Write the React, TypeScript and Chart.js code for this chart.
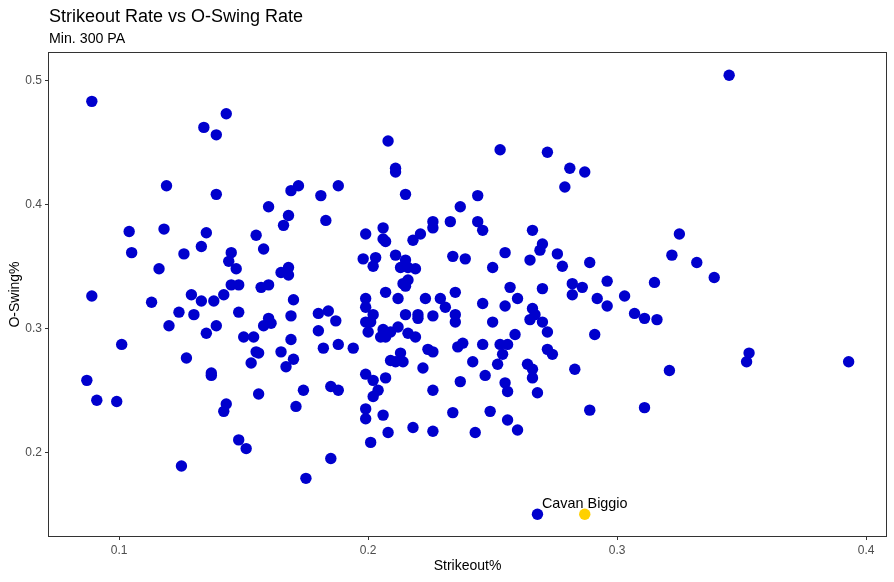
import { useEffect, useRef } from 'react'
import Chart from 'chart.js/auto'

const titleText = 'Strikeout Rate vs O-Swing Rate'
const subtitleText = 'Min. 300 PA'
const xAxisLabel = 'Strikeout%'
const yAxisLabel = 'O-Swing%'

const xTicks = [0.1, 0.2, 0.3, 0.4]
const yTicks = [0.2, 0.3, 0.4, 0.5]

// one entry per qualified hitter
const strikeoutRate = [
  0.089, 0.143, 0.134, 0.139, 0.119, 0.139, 0.169, 0.172, 0.181, 0.160,
  0.183, 0.168, 0.166, 0.104, 0.118, 0.135, 0.155, 0.133, 0.158, 0.105,
  0.126, 0.145, 0.144, 0.147, 0.116, 0.168, 0.165, 0.168, 0.145, 0.148,
  0.157, 0.160, 0.089, 0.113, 0.129, 0.133, 0.138, 0.142, 0.170, 0.124,
  0.130, 0.148, 0.120, 0.139, 0.135, 0.160, 0.158, 0.161, 0.169, 0.180,
  0.184, 0.180, 0.169, 0.150, 0.154, 0.101, 0.182, 0.155, 0.156, 0.165,
  0.127, 0.153, 0.170, 0.167, 0.137, 0.137, 0.087, 0.174, 0.185, 0.091,
  0.099, 0.156, 0.143, 0.142, 0.171, 0.148, 0.151, 0.125, 0.175, 0.185,
  0.208, 0.253, 0.272, 0.211, 0.211, 0.281, 0.287, 0.279, 0.188, 0.215,
  0.244, 0.237, 0.199, 0.206, 0.206, 0.207, 0.218, 0.221, 0.226, 0.226,
  0.233, 0.244, 0.246, 0.266, 0.270, 0.269, 0.255, 0.198, 0.203, 0.202,
  0.211, 0.215, 0.213, 0.216, 0.219, 0.234, 0.239, 0.250, 0.265, 0.276,
  0.278, 0.289, 0.296, 0.216, 0.214, 0.215, 0.207, 0.257, 0.270, 0.282,
  0.286, 0.282, 0.199, 0.212, 0.223, 0.229, 0.235, 0.231, 0.246, 0.255,
  0.260, 0.292, 0.296, 0.187, 0.188, 0.194, 0.199, 0.202, 0.201, 0.199,
  0.200, 0.206, 0.205, 0.207, 0.209, 0.212, 0.215, 0.220, 0.220, 0.226,
  0.235, 0.235, 0.216, 0.219, 0.250, 0.266, 0.267, 0.265, 0.270, 0.272,
  0.259, 0.291, 0.224, 0.226, 0.236, 0.238, 0.246, 0.253, 0.256, 0.254,
  0.252, 0.272, 0.274, 0.264, 0.266, 0.266, 0.268, 0.283, 0.289, 0.209,
  0.213, 0.214, 0.211, 0.222, 0.242, 0.199, 0.202, 0.207, 0.237, 0.247,
  0.255, 0.256, 0.188, 0.204, 0.202, 0.226, 0.199, 0.199, 0.206, 0.208,
  0.218, 0.226, 0.234, 0.243, 0.249, 0.256, 0.260, 0.201, 0.268, 0.345,
  0.325, 0.322, 0.332, 0.339, 0.315, 0.303, 0.307, 0.311, 0.316, 0.353,
  0.352, 0.393, 0.321, 0.311
]

const oSwingRate = [
  0.483, 0.473, 0.462, 0.456, 0.415, 0.408, 0.411, 0.415, 0.407, 0.398,
  0.387, 0.391, 0.383, 0.378, 0.380, 0.377, 0.375, 0.366, 0.364, 0.361,
  0.360, 0.361, 0.354, 0.348, 0.348, 0.349, 0.345, 0.343, 0.335, 0.335,
  0.333, 0.335, 0.326, 0.321, 0.327, 0.322, 0.322, 0.327, 0.323, 0.313,
  0.311, 0.313, 0.302, 0.302, 0.296, 0.308, 0.302, 0.304, 0.310, 0.312,
  0.314, 0.298, 0.291, 0.293, 0.293, 0.287, 0.284, 0.281, 0.280, 0.281,
  0.276, 0.272, 0.275, 0.269, 0.264, 0.262, 0.258, 0.250, 0.253, 0.242,
  0.241, 0.247, 0.239, 0.233, 0.237, 0.210, 0.203, 0.189, 0.179, 0.195,
  0.451, 0.444, 0.442, 0.429, 0.426, 0.429, 0.426, 0.414, 0.415, 0.408,
  0.407, 0.398, 0.376, 0.381, 0.372, 0.370, 0.371, 0.376, 0.386, 0.381,
  0.386, 0.386, 0.379, 0.379, 0.368, 0.363, 0.361, 0.356, 0.357, 0.350,
  0.359, 0.355, 0.349, 0.349, 0.348, 0.358, 0.356, 0.349, 0.355, 0.360,
  0.350, 0.353, 0.338, 0.339, 0.336, 0.334, 0.329, 0.333, 0.332, 0.336,
  0.333, 0.327, 0.324, 0.324, 0.324, 0.324, 0.329, 0.317, 0.320, 0.318,
  0.324, 0.324, 0.318, 0.306, 0.287, 0.284, 0.317, 0.311, 0.305, 0.305,
  0.297, 0.299, 0.293, 0.293, 0.297, 0.301, 0.311, 0.311, 0.308, 0.310,
  0.311, 0.305, 0.296, 0.293, 0.305, 0.316, 0.311, 0.307, 0.305, 0.297,
  0.295, 0.295, 0.283, 0.281, 0.285, 0.288, 0.287, 0.287, 0.287, 0.279,
  0.271, 0.283, 0.279, 0.271, 0.267, 0.260, 0.248, 0.267, 0.234, 0.274,
  0.280, 0.273, 0.273, 0.268, 0.273, 0.263, 0.258, 0.260, 0.257, 0.262,
  0.256, 0.249, 0.250, 0.250, 0.245, 0.250, 0.235, 0.227, 0.230, 0.216,
  0.220, 0.217, 0.232, 0.216, 0.233, 0.226, 0.218, 0.208, 0.150, 0.504,
  0.376, 0.359, 0.353, 0.341, 0.337, 0.326, 0.312, 0.308, 0.307, 0.280,
  0.273, 0.273, 0.266, 0.236
]

const highlightName = 'Cavan Biggio'
const highlightStrikeout = [0.287]
const highlightOSwing = [0.15]

const font = 'Liberation Sans, Arial, sans-serif'

const decorations = {
  id: 'decorations',
  afterDatasetsDraw(chart: any) {
    const { ctx, chartArea } = chart
    ctx.save()
    ctx.strokeStyle = '#333333'
    ctx.lineWidth = 1
    ctx.strokeRect(chartArea.left - 0.5, chartArea.top - 0.5, chartArea.right - chartArea.left + 1, chartArea.bottom - chartArea.top + 1)

    // label above the highlighted hitter
    const pt = chart.getDatasetMeta(1).data[0]
    ctx.fillStyle = '#000000'
    ctx.font = `14.4px ${font}`
    ctx.textAlign = 'center'
    ctx.textBaseline = 'alphabetic'
    ctx.fillText(highlightName, pt.x, pt.y - 6)

    ctx.textAlign = 'left'
    ctx.font = `18px ${font}`
    ctx.fillText(titleText, chartArea.left, 22)
    ctx.font = `14.2px ${font}`
    ctx.fillText(subtitleText, chartArea.left, 43)
    ctx.restore()
  }
}

export default function App() {
  const canvasRef = useRef<HTMLCanvasElement>(null)

  useEffect(() => {
    document.body.style.margin = '0'
    if (!canvasRef.current) return
    const chart = new Chart(canvasRef.current, {
      type: 'scatter',
      data: {
        datasets: [
          {
            data: strikeoutRate.map((x, i) => ({ x, y: oSwingRate[i] })),
            backgroundColor: '#0000CD',
            borderWidth: 0,
            pointRadius: 5.7,
            pointHoverRadius: 5.7
          },
          {
            data: highlightStrikeout.map((x, i) => ({ x, y: highlightOSwing[i] })),
            backgroundColor: '#FFD000',
            borderWidth: 0,
            pointRadius: 5.7,
            pointHoverRadius: 5.7
          }
        ]
      },
      options: {
        animation: false,
        responsive: true,
        maintainAspectRatio: false,
        layout: { padding: { top: 53, right: 8, left: 0, bottom: 0 } },
        plugins: {
          legend: { display: false },
          tooltip: { enabled: false }
        },
        scales: {
          x: {
            type: 'linear',
            min: 0.0718,
            max: 0.408,
            afterBuildTicks: (axis: any) => {
              axis.ticks = xTicks.map((value) => ({ value }))
            },
            afterFit: (axis: any) => {
              axis.height = 46
            },
            border: { display: false },
            grid: { drawOnChartArea: false, drawTicks: true, tickLength: 4, color: '#333333' },
            ticks: {
              color: '#4D4D4D',
              font: { family: font, size: 12 },
              padding: 3,
              maxRotation: 0,
              callback: (v: any) => String(v)
            },
            title: {
              display: true,
              text: xAxisLabel,
              color: '#000000',
              font: { family: font, size: 14 },
              padding: { top: 0, bottom: 7.6 }
            }
          },
          y: {
            type: 'linear',
            min: 0.1325,
            max: 0.522,
            afterBuildTicks: (axis: any) => {
              axis.ticks = yTicks.map((value) => ({ value }))
            },
            afterFit: (axis: any) => {
              axis.width = 49
            },
            border: { display: false },
            grid: { drawOnChartArea: false, drawTicks: true, tickLength: 4, color: '#333333' },
            ticks: {
              color: '#4D4D4D',
              font: { family: font, size: 12 },
              padding: 3,
              callback: (v: any) => String(v)
            },
            title: {
              display: true,
              text: yAxisLabel,
              color: '#000000',
              font: { family: font, size: 14 },
              padding: { top: 6.6, bottom: 0 }
            }
          }
        }
      },
      plugins: [decorations]
    })

    return () => {
      chart.destroy()
    }
  }, [])

  return (
    <div style={{ width: 894, height: 582, background: '#ffffff' }}>
      <canvas ref={canvasRef}></canvas>
    </div>
  )
}
